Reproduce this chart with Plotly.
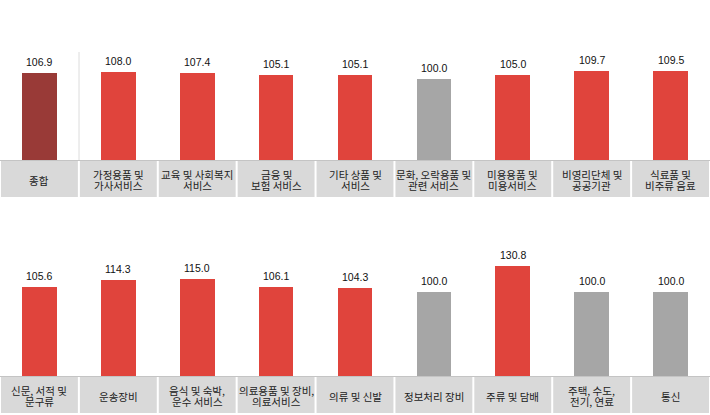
import plotly.graph_objects as go

# ---- data ----
top_labels = ["종합", "가정용품 및<br>가사서비스", "교육 및 사회복지<br>서비스", "금융 및<br>보험 서비스",
              "기타 상품 및<br>서비스", "문화, 오락용품 및<br>관련 서비스", "미용용품 및<br>미용서비스",
              "비영리단체 및<br>공공기관", "식료품 및<br>비주류 음료"]
top_values = [106.9, 108.0, 107.4, 105.1, 105.1, 100.0, 105.0, 109.7, 109.5]

bottom_labels = ["신문, 서적 및<br>문구류", "운송장비", "음식 및 숙박,<br>운수 서비스", "의료용품 및 장비,<br>의료서비스",
                 "의류 및 신발", "정보처리 장비", "주류 및 담배", "주택, 수도,<br>전기, 연료", "통신"]
bottom_values = [105.6, 114.3, 115.0, 106.1, 104.3, 100.0, 130.8, 100.0, 100.0]

W, H = 710, 415
DARK = "#993A37"
RED = "#E0443C"
GREY = "#A6A6A6"
BOX = "#D9D9D9"


def color_for(v, is_total=False):
    if is_total:
        return DARK
    return GREY if v == 100.0 else RED


def py(px):
    return 1 - px / H


fig = go.Figure()

rows = [
    dict(labels=top_labels, values=top_values, xa="x", ya="y", base=160, top=52, scale=0.811,
         box=(160, 197), total=True),
    dict(labels=bottom_labels, values=bottom_values, xa="x2", ya="y2", base=376, top=262, scale=0.841,
         box=(376, 413), total=False),
]

shapes = []
annotations = []
n = 9
pw = W / n
LINE_GAP = 11
for r_i, r in enumerate(rows):
    idx = list(range(n))
    cols = [color_for(v, r["total"] and i == 0) for i, v in enumerate(r["values"])]
    fig.add_trace(go.Bar(x=idx, y=r["values"], marker=dict(color=cols, line=dict(width=0)),
                         width=0.44, xaxis=r["xa"], yaxis=r["ya"], showlegend=False,
                         hoverinfo="skip"))
    # value labels
    for i, v in enumerate(r["values"]):
        annotations.append(dict(x=i, y=v, xref=r["xa"], yref=r["ya"], text=f"{v:.1f}",
                                showarrow=False, yanchor="bottom", yshift=3,
                                font=dict(family="Liberation Sans, Arial", size=10.5, color="#111")))
    # label boxes
    b0, b1 = r["box"]
    for i in range(n):
        shapes.append(dict(type="rect", xref="paper", yref="paper",
                           x0=(i * pw + 1) / W, x1=((i + 1) * pw - 1) / W,
                           y0=py(b1), y1=py(b0 + 1), fillcolor=BOX, line=dict(width=0), layer="below"))
        lines = r["labels"][i].split("<br>")
        cy = (b0 + b1) / 2 + 1.5
        start = cy - (len(lines) - 1) * LINE_GAP / 2
        for k, ln in enumerate(lines):
            annotations.append(dict(x=(i + 0.5) / n, y=py(start + k * LINE_GAP), xref="paper", yref="paper",
                                    text=ln, showarrow=False, xanchor="center", yanchor="middle",
                                    font=dict(family="Noto Sans CJK KR", size=10.5, color="#222")))
    # base line
    shapes.append(dict(type="line", xref="paper", yref="paper", x0=0, x1=1,
                       y0=py(b0 + 0.5), y1=py(b0 + 0.5), line=dict(color="#C4C4C4", width=1)))

# separator after 종합
shapes.append(dict(type="line", xref="paper", yref="paper", x0=79 / W, x1=79 / W,
                   y0=py(160), y1=py(52), line=dict(color="#DCDCDC", width=1)))

top = rows[0]
bot = rows[1]
fig.update_layout(
    width=W, height=H, margin=dict(l=0, r=0, t=0, b=0),
    paper_bgcolor="white", plot_bgcolor="rgba(0,0,0,0)",
    xaxis=dict(domain=[0, 1], range=[-0.5, 8.5], visible=False, fixedrange=True),
    yaxis=dict(domain=[py(top["base"]), py(top["top"])],
               range=[0, (top["base"] - top["top"]) / top["scale"]], visible=False),
    xaxis2=dict(domain=[0, 1], range=[-0.5, 8.5], visible=False, anchor="y2"),
    yaxis2=dict(domain=[py(bot["base"]), py(bot["top"])],
                range=[0, (bot["base"] - bot["top"]) / bot["scale"]], visible=False, anchor="x2"),
    shapes=shapes, annotations=annotations, bargap=0,
)

fig.write_html("out.html", config={"displayModeBar": False},
               post_script="document.body.style.margin='0';document.body.style.overflow='hidden';")
